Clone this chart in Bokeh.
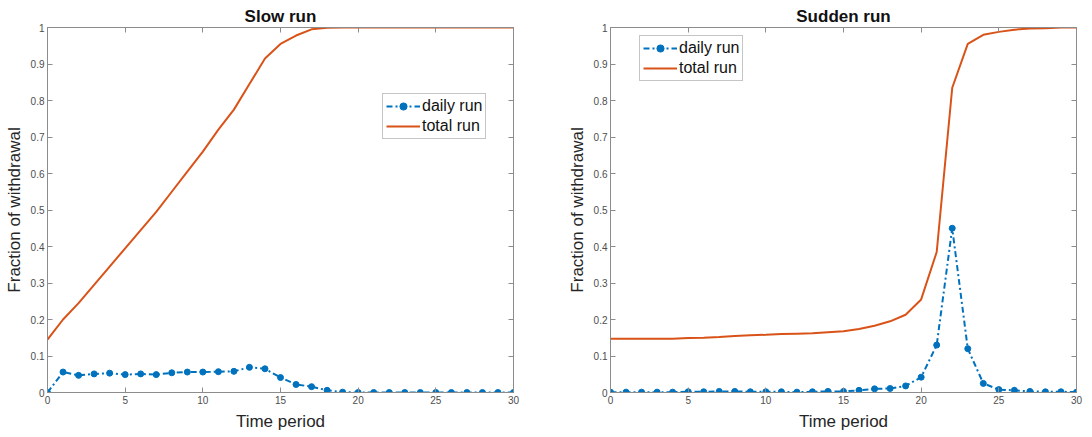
from bokeh.plotting import figure
from bokeh.layouts import row
from bokeh.models import Range1d, LinearAxis, FixedTicker, CustomLabelingPolicy
from bokeh.embed import file_html
from bokeh.resources import INLINE

periods = list(range(31))

slow_daily = [0.0, 0.056, 0.047, 0.051, 0.053, 0.049, 0.051, 0.049, 0.054, 0.056,
              0.056, 0.057, 0.058, 0.069, 0.065, 0.041, 0.022, 0.016, 0.006, 0.001,
              0.0, 0.0, 0.0, 0.0, 0.0, 0.0, 0.0, 0.0, 0.0, 0.0, 0.0]
slow_total = [0.145, 0.200, 0.245, 0.295, 0.345, 0.395, 0.445, 0.495, 0.550, 0.605,
              0.660, 0.720, 0.775, 0.845, 0.915, 0.955, 0.978, 0.995, 0.999, 1.0,
              1.0, 1.0, 1.0, 1.0, 1.0, 1.0, 1.0, 1.0, 1.0, 1.0, 1.0]

sudden_daily = [0.001, 0.001, 0.001, 0.001, 0.001, 0.002, 0.002, 0.003, 0.003, 0.002,
                0.002, 0.002, 0.001, 0.002, 0.003, 0.003, 0.006, 0.010, 0.011, 0.018,
                0.042, 0.130, 0.450, 0.120, 0.025, 0.008, 0.006, 0.003, 0.002, 0.002, 0.001]
sudden_total = [0.147, 0.147, 0.147, 0.147, 0.147, 0.149, 0.150, 0.152, 0.155, 0.157,
                0.158, 0.160, 0.161, 0.162, 0.165, 0.168, 0.174, 0.183, 0.195, 0.213,
                0.255, 0.385, 0.835, 0.955, 0.980, 0.988, 0.994, 0.997, 0.998, 1.0, 1.0]

x_ticks = [0, 5, 10, 15, 20, 25, 30]
y_ticks = [0, 0.1, 0.2, 0.3, 0.4, 0.5, 0.6, 0.7, 0.8, 0.9, 1]
y_tick_labels = ["0", "0.1", "0.2", "0.3", "0.4", "0.5", "0.6", "0.7", "0.8", "0.9", "1"]

BLUE = "#0072BD"
ORANGE = "#D95319"
AXIS_GREY = "#8c8c8c"
TEXT_GREY = "#4d4d4d"
FONT = "Liberation Sans"

NO_LABELS = "for (const i of indices) { indices.unset(i) } return indices"


def style_axis(ax, show_labels=True):
    ax.axis_line_color = AXIS_GREY
    ax.major_tick_line_color = AXIS_GREY
    ax.major_tick_in = 5
    ax.major_tick_out = 0
    ax.minor_tick_line_color = None
    ax.major_label_text_font = FONT
    ax.major_label_text_color = TEXT_GREY
    if show_labels:
        ax.major_label_text_font_size = "10px"
        ax.major_label_standoff = 3
    else:
        ax.major_label_text_font_size = "0px"
        ax.major_label_standoff = 0
        ax.major_label_policy = CustomLabelingPolicy(code=NO_LABELS)


def make_fig(title, daily, total, legend_loc, border_left, border_right):
    p = figure(frame_width=466, frame_height=365,
               x_range=Range1d(0, 30), y_range=Range1d(0, 1),
               output_backend="svg", toolbar_location=None,
               min_border_left=border_left, min_border_right=border_right,
               min_border_top=27, min_border_bottom=40)
    p.title.text = title
    p.title.align = "center"
    p.title.text_font = FONT
    p.title.text_font_size = "17px"
    p.title.text_font_style = "bold"
    p.title.text_color = "#111111"
    p.title.standoff = 4
    p.grid.visible = False
    p.outline_line_color = AXIS_GREY

    p.xaxis.ticker = FixedTicker(ticks=x_ticks)
    p.yaxis.ticker = FixedTicker(ticks=y_ticks)
    p.yaxis.major_label_overrides = dict(zip(y_ticks, y_tick_labels))
    p.xaxis.axis_label = "Time period"
    p.yaxis.axis_label = "Fraction of withdrawal"
    for ax in (p.xaxis[0], p.yaxis[0]):
        style_axis(ax)
        ax.axis_label_text_font = FONT
        ax.axis_label_text_font_size = "17px"
        ax.axis_label_text_font_style = "normal"
        ax.axis_label_text_color = "#262626"
    p.xaxis.axis_label_standoff = 5
    p.yaxis.axis_label_standoff = 4

    top = LinearAxis(ticker=FixedTicker(ticks=x_ticks))
    right = LinearAxis(ticker=FixedTicker(ticks=y_ticks))
    style_axis(top, False)
    style_axis(right, False)
    p.add_layout(top, "above")
    p.add_layout(right, "right")

    p.line(periods, daily, line_color=BLUE, line_width=2, line_dash="6 3 2 3",
           legend_label="daily run")
    p.scatter(periods, daily, size=6, marker="circle", fill_color=BLUE,
              line_color=BLUE, legend_label="daily run")
    p.line(periods, total, line_color=ORANGE, line_width=2, legend_label="total run")

    lg = p.legend[0]
    lg.location = legend_loc
    lg.label_text_font = FONT
    lg.label_text_font_size = "16px"
    lg.label_text_color = "#111111"
    lg.glyph_width = 34
    lg.glyph_height = 18
    lg.label_height = 18
    lg.label_standoff = 2
    lg.spacing = 2
    lg.padding = 3
    lg.margin = 0
    lg.border_line_color = AXIS_GREY
    lg.background_fill_alpha = 1.0
    return p


p1 = make_fig("Slow run", slow_daily, slow_total, (335, 253), 47, 49)
p2 = make_fig("Sudden run", sudden_daily, sudden_total, (29, 311), 48, 7)

layout = row(p1, p2)
open("out.html", "w").write(file_html(layout, INLINE))
